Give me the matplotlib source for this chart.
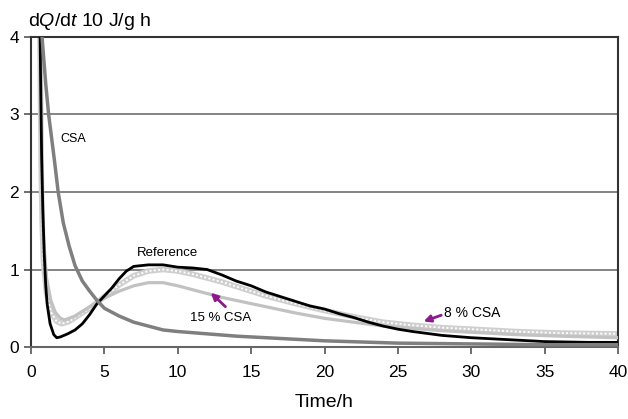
import matplotlib
matplotlib.use("Agg")
from matplotlib import pyplot as plt

plt.rcParams['font.family'] = ['Liberation Sans', 'DejaVu Sans']
plt.rcParams['mathtext.fontset'] = 'custom'
plt.rcParams['mathtext.rm'] = 'Liberation Sans'
plt.rcParams['mathtext.it'] = 'Liberation Sans:italic'

# time (h) and heat flow (10 J/g h)
csa_t = [0.7, 0.75, 1.0, 1.2, 1.4, 1.6, 1.85, 2.2, 2.6, 3.0, 3.5, 4.0, 4.5, 5.0,
         6.0, 7.0, 8.0, 9.0, 10.0, 12.0, 14.0, 16.0, 18.0, 20.0, 25.0, 30.0, 35.0, 40.0]
csa_q = [4.3, 4.0, 3.4, 3.0, 2.7, 2.4, 2.0, 1.6, 1.3, 1.05, 0.85, 0.72, 0.6, 0.5,
         0.4, 0.32, 0.27, 0.22, 0.2, 0.17, 0.14, 0.12, 0.1, 0.08, 0.05, 0.04, 0.03, 0.03]

ref_t = [0.6, 0.65, 0.72, 0.8, 0.9, 1.0, 1.1, 1.3, 1.55, 1.75, 2.0, 2.5, 3.0, 3.5,
         4.0, 4.5, 5.0, 5.5, 6.0, 6.5, 7.0, 8.0, 9.0, 10.0, 11.0, 12.0, 13.0, 14.0,
         15.0, 16.0, 17.0, 18.0, 19.0, 20.0, 21.0, 22.0, 23.0, 24.0, 25.0, 26.0,
         28.0, 30.0, 32.0, 35.0, 38.0, 40.0]
ref_q = [4.3, 3.5, 2.5, 1.8, 1.2, 0.8, 0.55, 0.3, 0.16, 0.12, 0.13, 0.17, 0.22, 0.3,
         0.42, 0.56, 0.66, 0.76, 0.88, 0.98, 1.04, 1.06, 1.06, 1.03, 1.02, 1.0, 0.93, 0.85,
         0.79, 0.71, 0.65, 0.59, 0.53, 0.49, 0.43, 0.38, 0.32, 0.27, 0.23, 0.2,
         0.15, 0.12, 0.1, 0.07, 0.06, 0.06]

c15_t = [0.65, 0.7, 0.76, 0.85, 1.05, 1.35, 1.65, 2.0, 2.3, 3.0, 4.0, 5.0, 6.0, 7.0, 8.0,
         9.0, 10.0, 11.0, 12.0, 13.0, 14.0, 15.0, 16.0, 18.0, 20.0, 22.0, 24.0, 26.0,
         28.0, 30.0, 33.0, 36.0, 40.0]
c15_q = [4.3, 3.0, 2.0, 1.4, 0.9, 0.6, 0.45, 0.37, 0.35, 0.4, 0.52, 0.63, 0.72, 0.79, 0.83,
         0.83, 0.79, 0.74, 0.69, 0.64, 0.6, 0.56, 0.52, 0.44, 0.37, 0.32, 0.27, 0.24,
         0.21, 0.19, 0.16, 0.14, 0.12]

c8_t = [0.6, 0.65, 0.7, 0.76, 0.85, 1.05, 1.35, 1.75, 2.1, 2.6, 3.0, 4.0, 5.0, 6.0, 7.0,
        8.0, 9.0, 10.0, 11.0, 12.0, 13.0, 14.0, 15.0, 16.0, 18.0, 20.0, 22.0, 24.0,
        26.0, 28.0, 30.0, 33.0, 36.0, 40.0]
c8_q = [4.3, 3.2, 2.2, 1.6, 1.1, 0.7, 0.45, 0.33, 0.3, 0.33, 0.38, 0.5, 0.65, 0.8, 0.92,
        0.98, 1.0, 0.98, 0.94, 0.89, 0.84, 0.78, 0.72, 0.66, 0.56, 0.47, 0.39, 0.32,
        0.28, 0.25, 0.23, 0.2, 0.18, 0.17]

x_ticks = [0, 5, 10, 15, 20, 25, 30, 35, 40]
y_ticks = [0, 1, 2, 3, 4]

fig = plt.figure(figsize=(6.28, 4.19), dpi=100)
ax = fig.add_axes([0.0494, 0.1718, 0.9347, 0.74])

for y in y_ticks[1:]:
    ax.axhline(y, color='#7a7a7a', lw=1.3, zorder=1)

ax.plot(c8_t, c8_q, color='#cfcfcf', lw=4, zorder=2, solid_capstyle='butt')
ax.plot(c8_t, c8_q, color='white', lw=1.4, ls=(0, (1, 1.2)), zorder=2.1)
ax.plot(c15_t, c15_q, color='#c2c2c2', lw=2.3, zorder=3)
ax.plot(ref_t, ref_q, color='black', lw=2.0, zorder=4)
ax.plot(csa_t, csa_q, color='#7f7f7f', lw=2.5, zorder=5)

ax.set_xlim(0, 40)
ax.set_ylim(0, 4)
ax.set_xticks(x_ticks)
ax.set_yticks(y_ticks)
ax.tick_params(axis='both', labelsize=12.5, color='#555555', length=5, width=1.2, direction='out')
ax.tick_params(axis='x', pad=8)
for side in ['left', 'right', 'bottom', 'top']:
    ax.spines[side].set_color('#333333')
    ax.spines[side].set_linewidth(1.5)
ax.spines['bottom'].set_color('#666666')

arrow = dict(arrowstyle='-|>', color='#8b1a8b', lw=2, mutation_scale=10,
             shrinkA=0, shrinkB=0)
ax.text(2.0, 2.68, 'CSA', fontsize=9, va='center', ha='left')
ax.text(9.3, 1.21, 'Reference', fontsize=9.5, va='center', ha='center')
ax.text(12.9, 0.37, '15 % CSA', fontsize=9.5, ha='center', va='center')
ax.annotate('', xy=(12.25, 0.70), xytext=(13.25, 0.52), arrowprops=arrow)
ax.text(28.15, 0.44, '8 % CSA', fontsize=10, ha='left', va='center')
ax.annotate('', xy=(26.75, 0.33), xytext=(27.95, 0.41), arrowprops=arrow)

fig.text(0.045, 0.938, r'd$\mathit{Q}$/d$\mathit{t}$ 10 J/g h', fontsize=14,
         ha='left', va='baseline')
ax.set_xlabel('Time/h', fontsize=14, labelpad=10)

fig.savefig('out.png', dpi=100)
